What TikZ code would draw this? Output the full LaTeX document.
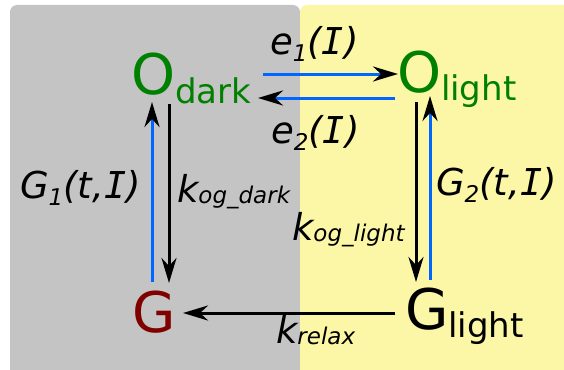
\documentclass[tikz,border=0pt]{standalone}
\usepackage{fontspec}
\setmainfont{DejaVu Sans}[ItalicFont={DejaVu Sans Oblique}]
\newfontfamily\monofam{DejaVu Sans Mono}[ItalicFont={DejaVu Sans Mono Oblique}]
\usetikzlibrary{arrows.meta}
\definecolor{panelgray}{HTML}{C4C4C4}
\definecolor{panelyellow}{HTML}{FBF7A6}
\definecolor{flowblue}{HTML}{0066FF}
\definecolor{ogreen}{HTML}{008000}
\definecolor{gred}{HTML}{800000}
% big state symbols and their subscripts
\newcommand{\bigsym}[1]{{\fontsize{56}{56}\selectfont #1}}
\newcommand{\bigsub}[2]{\raisebox{-#1}{\fontsize{34}{34}\selectfont #2}}
% rate labels
\newcommand{\lbl}{\fontsize{37}{37}\selectfont\itshape}
\newcommand{\lsub}[2]{\raisebox{-#1}{\fontsize{23}{23}\selectfont #2}}
\newcommand{\Ivar}{{\monofam\itshape I}}
\begin{document}
\begin{tikzpicture}[x=1pt,y=-1pt,
    state/.style={inner sep=0pt,outer sep=0pt,anchor=base west},
    rate/.style={inner sep=0pt,outer sep=0pt,anchor=base west},
    tip/.style={-{Stealth[length=25pt,width=15pt,inset=8pt,color=black]}},
    blueflow/.style={tip,line width=3pt,flowblue},
    blackflow/.style={tip,line width=3pt,black}]
\useasboundingbox (0,0) rectangle (564,369);
% panels
\fill[panelgray,rounded corners=7pt] (10,5) rectangle (300,385);
\fill[panelyellow,rounded corners=7pt] (300,5) rectangle (585,385);
% states
\node[state,ogreen] (odark) at (131,94) {\bigsym{O}\bigsub{9pt}{dark}};
\node[state,ogreen] (olight) at (397,92) {\bigsym{O}\bigsub{8pt}{light}};
\node[state,gred] (gdark) at (132,332) {\bigsym{G}};
\node[state] (glight) at (405,329) {\bigsym{G}\bigsub{8pt}{light}};
% arrow ends
\def\ya{74}
\def\yb{98}
\coordinate (e1from) at (263,\ya);
\coordinate (e1to) at (398,\ya);
\coordinate (e2from) at (395,\yb);
\coordinate (e2to) at (258,\yb);
\coordinate (g1from) at (152,282);
\coordinate (g1to) at (152,102);
\coordinate (kdfrom) at (169,104);
\coordinate (kdto) at (169,283);
\coordinate (klfrom) at (416,102);
\coordinate (klto) at (416,282);
\coordinate (g2from) at (430,280);
\coordinate (g2to) at (430,96);
\coordinate (krfrom) at (395,313);
\coordinate (krto) at (183,313);
\draw[blueflow] (e1from) -- (e1to);
\draw[blueflow] (e2from) -- (e2to);
\draw[blueflow] (g1from) -- (g1to);
\draw[blackflow] (kdfrom) -- (kdto);
\draw[blackflow] (klfrom) -- (klto);
\draw[blueflow] (g2from) -- (g2to);
\draw[blackflow] (krfrom) -- (krto);
% rate labels
\node[rate] (e1lbl) at (270,55) {\lbl e\lsub{7pt}{1}(\Ivar)};
\node[rate] (e2lbl) at (271,143) {\lbl e\lsub{7pt}{2}(\Ivar)};
\node[rate] (g1lbl) at (20,198) {\lbl G\lsub{7pt}{1}(t,\Ivar)};
\node[rate] (g2lbl) at (436,195) {\lbl G\lsub{7pt}{2}(t,\Ivar)};
\node[rate] (kdlbl) at (177,202) {\lbl k\lsub{1pt}{og\_dark}};
\node[rate] (kllbl) at (292,240) {\lbl k\lsub{1pt}{og\_light}};
\node[rate] (krlbl) at (276,343) {\lbl k\lsub{1pt}{relax}};
\end{tikzpicture}
\end{document}
